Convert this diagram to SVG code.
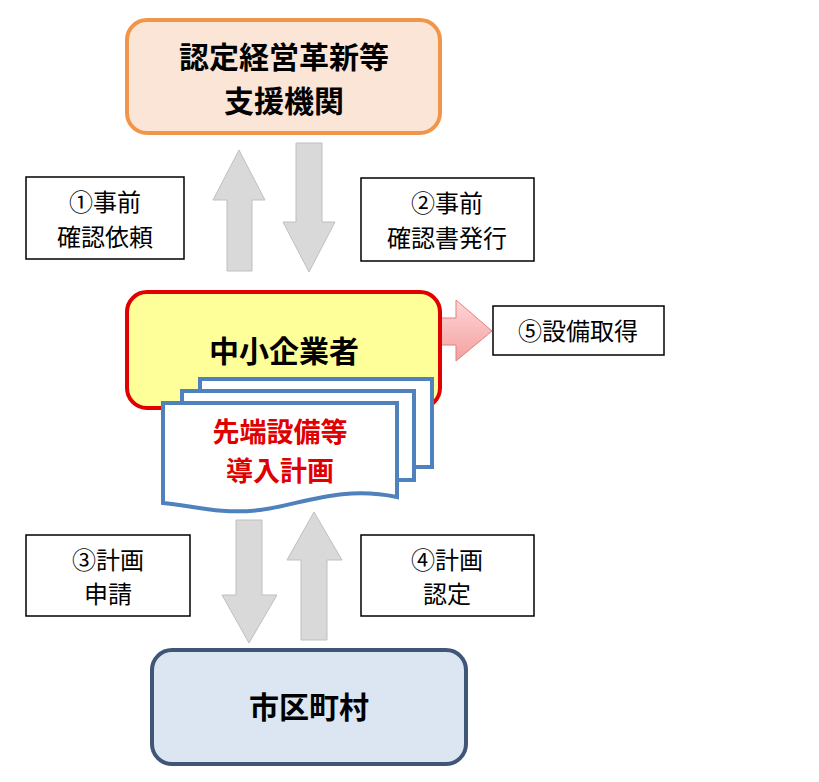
<svg xmlns="http://www.w3.org/2000/svg" width="819" height="782" viewBox="0 0 819 782">
<style>
text{font-family:"Noto Sans CJK JP","Noto Sans CJK SC",sans-serif;text-anchor:middle}
.b{font-weight:bold;font-size:30px;fill:#000}
.l{font-size:24px;fill:#000}
.lb{fill:#fff;stroke:#000;stroke-width:1.5}
.ga{fill:#D9D9D9;stroke:#BFBFBF;stroke-width:1}
.doc{fill:#fff;stroke:#4F81BD;stroke-width:4}
</style>
<rect width="819" height="782" fill="#fff"/>
<g id="connectors">
<path class="ga" d="M239,150 L265,200 L252,200 L252,271 L227,271 L227,200 L213,200 Z"/>
<path class="ga" d="M309,272 L335,222 L322,222 L322,143 L296,143 L296,222 L283,222 Z"/>
<path class="ga" d="M249,643 L277,595 L262,595 L262,520 L236,520 L236,595 L222,595 Z"/>
<path class="ga" d="M314,512 L342,560 L327,560 L327,640 L301,640 L301,560 L287,560 Z"/>
<defs><linearGradient id="pk" x1="0" y1="0" x2="0" y2="1"><stop offset="0" stop-color="#FFD5D5"/><stop offset="1" stop-color="#F4A0A0"/></linearGradient></defs>
<path d="M415,318 L456,318 L456,300 L492,331 L456,361 L456,345 L415,345 Z" fill="url(#pk)" stroke="#E08080" stroke-width="1"/>
</g>
<g id="support">
<rect x="127" y="20" width="313" height="113" rx="20" fill="#FBE5D6" stroke="#F0964A" stroke-width="4"/>
<text class="b" x="284" y="68">認定経営革新等</text>
<text class="b" x="284" y="112">支援機関</text>
</g>
<g id="sme">
<rect x="127" y="292" width="313" height="116" rx="20" fill="#FFFF99" stroke="#E00000" stroke-width="4"/>
<text class="b" x="284" y="362">中小企業者</text>
</g>
<g id="plan">
<rect class="doc" x="200" y="379" width="232" height="88"/>
<rect class="doc" x="182" y="391" width="232" height="89"/>
<path class="doc" d="M163,403 L397,403 L397,497 C340,485 300,505 260,510 C220,515 190,505 163,503 Z"/>
<text x="280" y="442" style="font-weight:bold;font-size:27px;fill:#E00000">先端設備等</text>
<text x="280" y="481" style="font-weight:bold;font-size:27px;fill:#E00000">導入計画</text>
</g>
<g id="city">
<rect x="152" y="650" width="314" height="114" rx="20" fill="#DCE6F2" stroke="#3F5677" stroke-width="4"/>
<text class="b" x="309" y="718">市区町村</text>
</g>
<g id="l1"><rect class="lb" x="26" y="177" width="158" height="82"/><text class="l" x="105" y="211">①事前</text><text class="l" x="105" y="246">確認依頼</text></g>
<g id="l2"><rect class="lb" x="361" y="178" width="173" height="83"/><text class="l" x="447" y="212">②事前</text><text class="l" x="447" y="247">確認書発行</text></g>
<g id="l3"><rect class="lb" x="26" y="535" width="164" height="81"/><text class="l" x="108" y="569">③計画</text><text class="l" x="108" y="603">申請</text></g>
<g id="l4"><rect class="lb" x="361" y="535" width="173" height="81"/><text class="l" x="447" y="569">④計画</text><text class="l" x="447" y="603">認定</text></g>
<g id="l5"><rect class="lb" x="493" y="306" width="171" height="49"/><text class="l" x="578" y="340">⑤設備取得</text></g>
</svg>
